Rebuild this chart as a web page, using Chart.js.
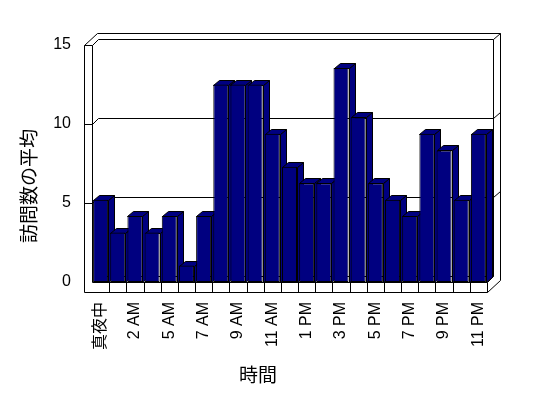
<!DOCTYPE html>
<html><head><meta charset="utf-8">
<script src="https://cdn.jsdelivr.net/npm/chart.js@4/dist/chart.umd.min.js"></script>
<style>html,body{margin:0;padding:0;background:#fff}#wrap{width:548px;height:398px;position:relative}</style>
</head><body><div id="wrap"><canvas id="c" width="548" height="398"></canvas></div>
<script>
// ---- data ----
const categories = ['真夜中','1 AM','2 AM','3 AM','5 AM','6 AM','7 AM','8 AM','9 AM','10 AM','11 AM','正午',
  '1 PM','2 PM','3 PM','4 PM','5 PM','6 PM','7 PM','8 PM','9 PM','10 PM','11 PM'];
const avgVisits = [5.21,3.13,4.17,3.13,4.17,1.04,4.17,12.5,12.5,12.5,9.38,7.29,
  6.25,6.25,13.54,10.42,6.25,5.21,4.17,9.38,8.33,5.21,9.38];
const yTickValues = [0,5,10,15];
const yTitle = '訪問数の平均';
const xTitle = '時間';

// ---- styling ----
const NAVY = '#000080';
const FONT = "'Liberation Sans', Arial, 'Noto Sans CJK JP', sans-serif";
const CJK = "'Noto Sans CJK JP', sans-serif";

function P(v){ return Math.round(v) + 0.5; }
function seg(ctx, x1, y1, x2, y2){
  ctx.beginPath(); ctx.moveTo(P(x1), P(y1)); ctx.lineTo(P(x2), P(y2)); ctx.stroke();
}
function poly(ctx, pts, fill){
  ctx.beginPath();
  pts.forEach((p,i)=> i ? ctx.lineTo(P(p[0]),P(p[1])) : ctx.moveTo(P(p[0]),P(p[1])));
  ctx.closePath();
  if (fill){ ctx.fillStyle = fill; ctx.fill(); }
  ctx.stroke();
}

const threeD = {
  id: 'threeD',
  beforeDraw(chart){
    const ctx = chart.ctx;
    ctx.save(); ctx.fillStyle = '#fff'; ctx.fillRect(0,0,chart.width,chart.height); ctx.restore();
  },
  beforeDatasetsDraw(chart){
    const {ctx, chartArea: ca, scales: {x, y}} = chart;
    const L = ca.left, R = ca.right, B = ca.bottom;
    const T = y.getPixelForValue(yTickValues[yTickValues.length-1]);
    const SL = L - 8, FB = B + 10;
    const d1x = 6, d1y = 6, d2x = 13, d2y = 12;
    ctx.save();
    ctx.strokeStyle = '#000'; ctx.lineWidth = 1;
    // left wall front face
    seg(ctx, SL, T, SL, FB);
    seg(ctx, L, T, L, B);
    seg(ctx, SL, T, L, T);
    // wall tops
    seg(ctx, SL, T, SL + d2x, T - d2y);
    seg(ctx, L, T, L + d1x, T - d1y);
    seg(ctx, SL + d2x, T - d2y, R + d2x, T - d2y);
    seg(ctx, L + d1x, T - d1y, R + d1x, T - d1y);
    // back wall right edge
    seg(ctx, R + d1x, T - d1y, R + d2x, T - d2y);
    seg(ctx, R + d1x, T - d1y, R + d1x, B - d1y);
    seg(ctx, R + d2x, T - d2y, R + d2x, FB - d2y);
    // gridlines
    yTickValues.slice(1, -1).forEach(v => {
      const yy = y.getPixelForValue(v);
      seg(ctx, SL, yy, L, yy);
      seg(ctx, L, yy, L + d1x, yy - d1y);
      seg(ctx, L + d1x, yy - d1y, R + d1x, yy - d1y);
      seg(ctx, R + d1x, yy - d1y, R + d2x, yy - d2y);
    });
    // floor
    seg(ctx, L + d1x, B - d1y, R + d1x, B - d1y);
    seg(ctx, L, B, R, B);
    seg(ctx, SL, FB, R, FB);
    seg(ctx, R, B, R, FB);
    seg(ctx, R, B, R + d1x, B - d1y);
    seg(ctx, R, FB, R + d2x, FB - d2y);
    const n = categories.length, cw = (R - L) / n;
    for (let i = 1; i < n; i++) seg(ctx, L + i * cw, B, L + i * cw, FB);
    // bar tops and sides
    const bx = 6, by = 5;
    chart.getDatasetMeta(0).data.forEach(el => {
      const x1 = el.x - el.width / 2, x2 = el.x + el.width / 2, yt = el.y, yb = el.base;
      poly(ctx, [[x2, yt], [x2 + bx, yt - by], [x2 + bx, yb - by], [x2, yb]], NAVY);
      poly(ctx, [[x1, yt], [x2, yt], [x2 + bx, yt - by], [x1 + bx, yt - by]], NAVY);
    });
    ctx.restore();
  },
  afterDraw(chart){
    const ctx = chart.ctx;
    ctx.save();
    ctx.fillStyle = '#000';
    ctx.font = '19px ' + CJK;
    ctx.textAlign = 'center'; ctx.textBaseline = 'middle';
    ctx.fillText(xTitle, 258, 375);
    ctx.translate(29, 186); ctx.rotate(-Math.PI / 2);
    ctx.fillText(yTitle, 0, 0);
    ctx.restore();
  }
};

new Chart(document.getElementById('c'), {
  type: 'bar',
  data: {
    labels: categories,
    datasets: [{
      data: avgVisits,
      backgroundColor: NAVY,
      borderColor: '#000',
      borderWidth: 1,
      borderSkipped: false,
      categoryPercentage: 1,
      barPercentage: 0.875
    }]
  },
  options: {
    responsive: false,
    animation: false,
    devicePixelRatio: 1,
    layout: { padding: { left: 0, top: 45, right: 61, bottom: 0 } },
    plugins: { legend: { display: false }, tooltip: { enabled: false } },
    scales: {
      x: {
        grid: { display: false, drawTicks: false },
        border: { display: false },
        ticks: {
          autoSkip: false, maxRotation: 90, minRotation: 90, padding: 20,
          color: '#000', font: { family: FONT, size: 16 },
          callback: function(v, i){ return i % 2 === 0 ? categories[i] : ''; }
        },
        afterFit: s => { s.height = 116; }
      },
      y: {
        min: 0, max: 15,
        grid: { display: false, drawTicks: false },
        border: { display: false },
        afterBuildTicks: s => { s.ticks = yTickValues.map(v => ({ value: v })); },
        ticks: { padding: 21, color: '#000', font: { family: FONT, size: 16 } },
        afterFit: s => { s.width = 92; }
      }
    }
  },
  plugins: [threeD]
});
</script>
</body></html>
